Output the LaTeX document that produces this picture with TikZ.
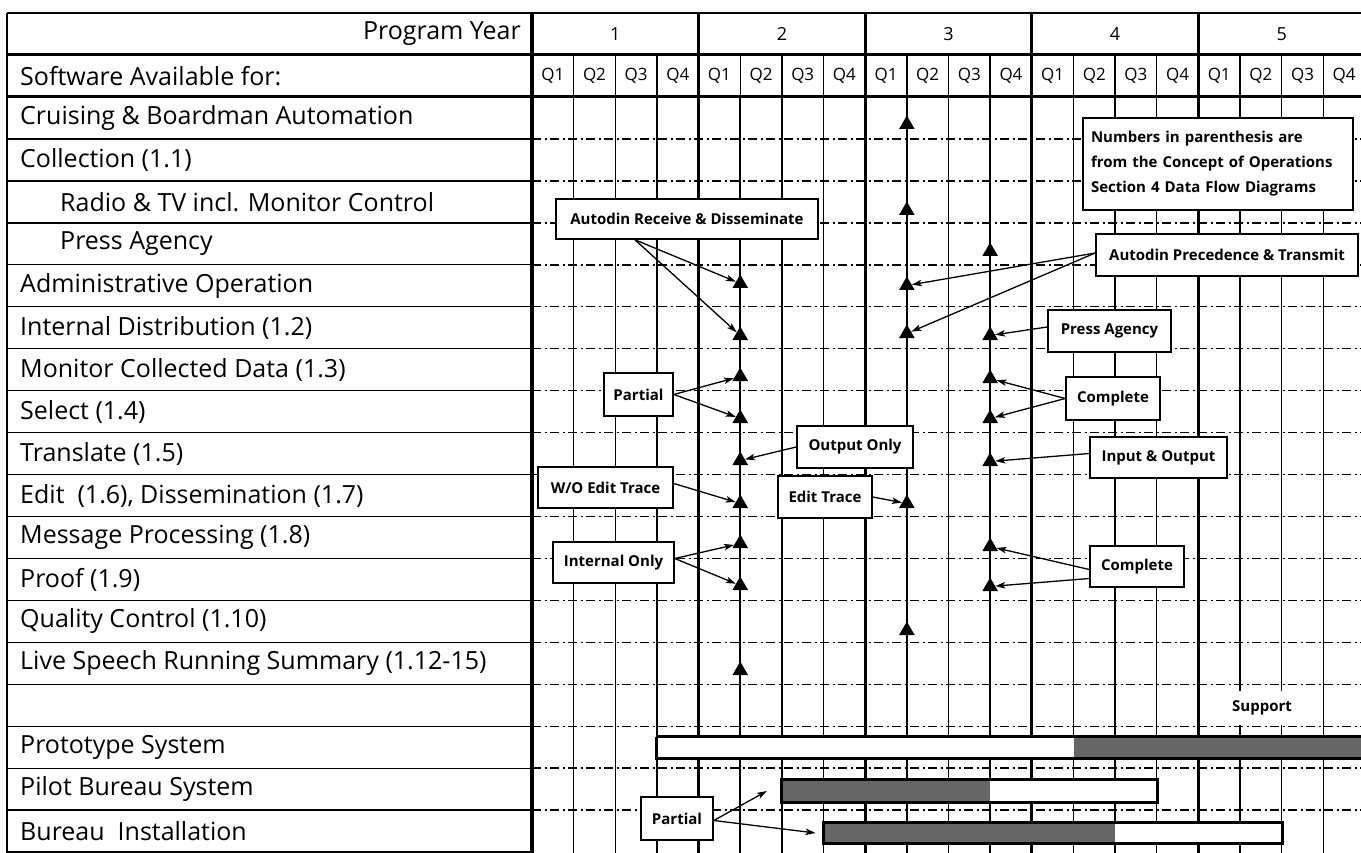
\documentclass[tikz,border=0pt]{standalone}
\usepackage{fontspec}
\setmainfont{Open Sans}
\usetikzlibrary{arrows.meta,shapes.geometric,calc}
\def\qw{41.65}
\def\rh{41.95}
\tikzset{
 lbl/.style={font=\fontsize{25}{29}\selectfont, inner sep=0pt},
 qlbl/.style={font=\fontsize{17}{20}\selectfont, inner sep=0pt},
 ylbl/.style={font=\fontsize{18}{22}\selectfont, inner sep=0pt},
 gridthin/.style={line width=1.4pt},
 gridthick/.style={line width=3pt},
 dashdot/.style={line width=1.5pt, dash pattern=on 9pt off 3.5pt on 2pt off 3.5pt},
 tri/.style={regular polygon, regular polygon sides=3, fill=black, minimum size=18pt, inner sep=0pt},
 callout/.style={draw, line width=1.6pt, fill=white, font=\bfseries\fontsize{15}{19}\selectfont, inner sep=0pt},
 conn/.style={line width=1.3pt, -{Stealth[length=10pt,width=6.5pt,inset=2.5pt]}},
 hatch/.style={fill=black!60, draw=none, inner sep=0pt},
 barwhite/.style={fill=white, draw=none, inner sep=0pt},
 barframe/.style={line width=3pt},
}
\begin{document}
\begin{tikzpicture}[x=1pt,y=-1pt]
\useasboundingbox (0,0) rectangle (1361,853);
\clip (0,0) rectangle (1361,853);
% ---------- grid ----------
\foreach \k in {1,...,17} \draw[gridthin] (7,{97+\k*\rh}) -- (532,{97+\k*\rh});
\foreach \k in {1,...,17} \draw[dashdot] (532,{97+\k*\rh}) -- (1361,{97+\k*\rh});
\foreach \k in {1,...,19} \draw[gridthin] ({532+\k*\qw},55) -- ({532+\k*\qw},853);
\foreach \k in {5,9,11} \draw[line width=1.9pt] ({532+\k*\qw},97) -- ({532+\k*\qw},853);
\foreach \k in {1,...,4} \draw[gridthick] ({532+4*\k*\qw},13) -- ({532+4*\k*\qw},853);
\draw[line width=2.6pt] (7,13) -- (1361,13);
\draw[gridthick] (7,55) -- (1361,55);
\draw[gridthick] (7,97) -- (1361,97);
\draw[line width=2.6pt] (7,13) -- (7,852) -- (532,852);
\draw[line width=3.4pt] (532,13) -- (532,853);
% ---------- header texts ----------
\node[lbl, anchor=east] (py) at (521,34) {Program Year};
\node[lbl, anchor=west] (sa) at (20,76) {Software Available for:};
\foreach \y in {1,...,5} \node[ylbl] (yr\y) at ({532+(4*(\y-1)+2)*\qw},34) {\y};
\foreach \j in {0,...,19} {
  \pgfmathtruncatemacro{\qq}{mod(\j,4)+1}
  \node[qlbl] (q\j) at ({532+(\j+0.5)*\qw},76) {Q\qq};
}
% ---------- row labels ----------
\node[lbl, anchor=west] (r1) at (20,{97+0.5*\rh}) {Cruising \& Boardman Automation};
\node[lbl, anchor=west] (r2) at (20,{97+1.5*\rh}) {Collection (1.1)};
\node[lbl, anchor=west] (r3) at (60,{97+2.5*\rh}) {Radio \& TV incl. Monitor Control};
\node[lbl, anchor=west] (r4) at (60,{97+3.5*\rh}) {Press Agency};
\node[lbl, anchor=west] (r5) at (20,{97+4.5*\rh}) {Administrative Operation};
\node[lbl, anchor=west] (r6) at (20,{97+5.5*\rh}) {Internal Distribution (1.2)};
\node[lbl, anchor=west] (r7) at (20,{97+6.5*\rh}) {Monitor Collected Data (1.3)};
\node[lbl, anchor=west] (r8) at (20,{97+7.5*\rh}) {Select (1.4)};
\node[lbl, anchor=west] (r9) at (20,{97+8.5*\rh}) {Translate (1.5)};
\node[lbl, anchor=west] (r10) at (20,{97+9.5*\rh}) {Edit\ \ (1.6), Dissemination (1.7)};
\node[lbl, anchor=west] (r11) at (20,{97+10.5*\rh}) {Message Processing (1.8)};
\node[lbl, anchor=west] (r12) at (20,{97+11.5*\rh}) {Proof (1.9)};
\node[lbl, anchor=west] (r13) at (20,{97+12.5*\rh}) {Quality Control (1.10)};
\node[lbl, anchor=west] (r14) at (20,{97+13.5*\rh}) {Live Speech Running Summary (1.12-15)};
\node[lbl, anchor=west] (r16) at (20,{97+15.5*\rh}) {Prototype System};
\node[lbl, anchor=west] (r17) at (20,{97+16.5*\rh}) {Pilot Bureau System};
\node[lbl, anchor=west] (r18) at (20,{97+17.5*\rh}) {Bureau\ \ Installation};
% ---------- support ----------
\node[fill=white, minimum width=116pt, minimum height=34pt, inner sep=0pt, font=\bfseries\fontsize{15}{19}\selectfont] (support) at (1262,708) {Support};
% ---------- bars ----------
\node[barwhite, anchor=west, minimum width={10*\qw}, minimum height=21pt] (protoW) at ({532+3*\qw},747.5) {};
\node[hatch, anchor=west, minimum width={7*\qw}, minimum height=21pt] (protoH) at ({532+13*\qw},747.5) {};
\draw[barframe] (protoW.north west) -- (protoH.north east) (protoW.north west) -- (protoW.south west) -- (protoH.south east);
\node[hatch, anchor=west, minimum width={5*\qw}, minimum height=22pt] (pilotH) at ({532+6*\qw},791) {};
\node[barwhite, anchor=west, minimum width={4*\qw}, minimum height=22pt] (pilotW) at ({532+11*\qw},791) {};
\draw[barframe] (pilotH.north west) rectangle (pilotW.south east);
\node[hatch, anchor=west, minimum width={7*\qw}, minimum height=20pt] (bureauH) at ({532+7*\qw},833) {};
\node[barwhite, anchor=west, minimum width={4*\qw}, minimum height=20pt] (bureauW) at ({532+14*\qw},833) {};
\draw[barframe] (bureauH.north west) rectangle (bureauW.south east);
% ---------- triangles ----------
\foreach \n/\y in {5/283.5,6/335.5,7/376.5,8/418.5,9/460.5,10/503.5,11/543.5,12/585.5,14/670.5}
  \node[tri] (tA\n) at ({532+5*\qw},\y) {};
\foreach \n/\y in {1/124.5,3/210.5,5/285.5,6/333.5,10/503.5,13/630.5}
  \node[tri] (tB\n) at ({532+9*\qw},\y) {};
\foreach \n/\y in {4/251.5,6/335.5,7/378.5,8/418.5,9/461.5,11/546.5,12/586.5}
  \node[tri] (tC\n) at ({532+11*\qw},\y) {};
% ---------- callouts ----------
\node[callout, minimum width=262pt, minimum height=40pt] (autodinR) at (687,219) {Autodin Receive \& Disseminate};
\node[callout, minimum width=69pt, minimum height=43pt] (partialA) at (638.5,394.5) {Partial};
\node[callout, minimum width=116pt, minimum height=42pt] (outonly) at (855,447) {Output Only};
\node[callout, minimum width=135pt, minimum height=41pt] (woedit) at (605.5,487.5) {W/O Edit Trace};
\node[callout, minimum width=94pt, minimum height=42pt] (edittr) at (825,497) {Edit Trace};
\node[callout, minimum width=121pt, minimum height=41pt] (intonly) at (613.5,562.5) {Internal Only};
\node[callout, minimum height=92pt, text width=254pt, inner xsep=8pt, align=left, font=\bfseries\fontsize{15}{25}\selectfont] (notes) at (1218,164) {Numbers in parenthesis are\\from the Concept of Operations\\Section 4 Data Flow Diagrams};
\node[callout, minimum width=262pt, minimum height=42pt] (autodinP) at (1227,255) {Autodin Precedence \& Transmit};
\node[callout, minimum width=123pt, minimum height=42pt] (pressag) at (1109.5,331) {Press Agency};
\node[callout, minimum width=94pt, minimum height=43pt] (completeA) at (1113,398.5) {Complete};
\node[callout, minimum width=137pt, minimum height=41pt] (inout) at (1158.5,457.5) {Input \& Output};
\node[callout, minimum width=94pt, minimum height=41pt] (completeB) at (1137,566.5) {Complete};
\node[callout, minimum width=72pt, minimum height=43pt] (partialB) at (677,818.5) {Partial};
% ---------- connectors ----------
\draw[conn] ([xshift=-52pt]autodinR.south) -- (tA5);
\draw[conn] ([xshift=-52pt]autodinR.south) -- (tA6);
\draw[conn] (partialA.east) -- (tA7);
\draw[conn] (partialA.east) -- (tA8);
\draw[conn] (outonly.west) -- (tA9);
\draw[conn] ([yshift=4pt]woedit.east) -- (tA10);
\draw[conn] (edittr.east) -- (tB10);
\draw[conn] ([yshift=4pt]intonly.east) -- (tA11);
\draw[conn] ([yshift=4pt]intonly.east) -- (tA12);
\draw[conn] ([yshift=2pt]autodinP.west) -- (tB5);
\draw[conn] ([yshift=2pt]autodinP.west) -- (tB6);
\draw[conn] ([yshift=4pt]pressag.west) -- (tC6);
\draw[conn] (completeA.west) -- (tC7);
\draw[conn] (completeA.west) -- (tC8);
\draw[conn] ([yshift=4pt]inout.west) -- (tC9);
\draw[conn] ([yshift=-3pt]completeB.west) -- (tC11);
\draw[conn] ([yshift=-12pt]completeB.west) -- (tC12);
\draw[conn] ([yshift=-2pt]partialB.east) -- ([xshift=-15pt]pilotH.west);
\draw[conn] ([yshift=-2pt]partialB.east) -- ([xshift=-8pt]bureauH.west);
\end{tikzpicture}
\end{document}
